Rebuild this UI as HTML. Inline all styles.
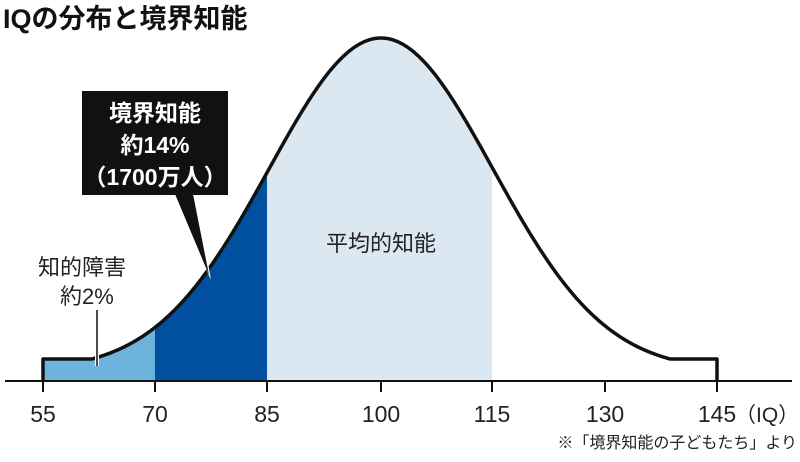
<!DOCTYPE html>
<html><head><meta charset="utf-8"><style>
html,body{margin:0;padding:0;background:#fff;}
svg{display:block;font-family:"Liberation Sans","Noto Sans CJK JP",sans-serif;}
</style></head><body>
<svg id="s" width="800" height="462" viewBox="0 0 800 462" xmlns="http://www.w3.org/2000/svg">
<text x="3" y="28" font-size="27" font-weight="bold" fill="#111">IQの分布と境界知能</text>
<g id="fills"></g>
<path id="curve" fill="none" stroke="#111" stroke-width="3.5" stroke-linejoin="round"/>
<line x1="5" y1="381" x2="792" y2="381" stroke="#111" stroke-width="2"/>
<g stroke="#111" stroke-width="2">
<line x1="43" y1="381" x2="43" y2="392"/><line x1="155" y1="381" x2="155" y2="392"/>
<line x1="267" y1="381" x2="267" y2="392"/><line x1="381" y1="381" x2="381" y2="392"/>
<line x1="492" y1="381" x2="492" y2="392"/><line x1="605" y1="381" x2="605" y2="392"/>
<line x1="717" y1="381" x2="717" y2="392"/>
</g>
<g font-size="23" fill="#222" text-anchor="middle">
<text x="43" y="422">55</text><text x="155" y="422">70</text><text x="267" y="422">85</text>
<text x="381" y="422">100</text><text x="492" y="422">115</text><text x="605" y="422">130</text>
<text x="717" y="422">145</text>
</g>
<text x="735" y="422" font-size="21" fill="#222">（IQ）</text>
<text x="797" y="448" font-size="16" fill="#222" text-anchor="end">※「境界知能の子どもたち」より</text>
<text x="381" y="251" font-size="22" fill="#222" text-anchor="middle">平均的知能</text>
<text x="38" y="275" font-size="22" fill="#222">知的障害</text>
<text x="60" y="304" font-size="22" fill="#222">約2%</text>
<line x1="97" y1="310" x2="97" y2="366" stroke="#fff" stroke-width="4"/>
<line x1="97" y1="310" x2="97" y2="366" stroke="#111" stroke-width="1.5"/>
<polygon points="172,194 196,194 211,280" fill="#fff"/>
<polygon points="175,194 193,194 209,275" fill="#111"/>
<rect x="82" y="91" width="146" height="104" fill="#111"/>
<g font-size="23" font-weight="bold" fill="#fff" text-anchor="middle">
<text x="155" y="121">境界知能</text>
<text x="155" y="153">約14%</text>
<text x="155" y="185">（1700万人）</text>
</g>
</svg>
<script>
var c=0.0357,H=321,B=359,M=381,S=112;
function y(x){var z=(x-M)/S,g=Math.exp(-z*z/2);var f=Math.max(0,(g-c)/(1-c));return B-H*f;}
function pts(a,b){var s=[];for(var x=a;x<=b;x+=1)s.push(x+','+y(x).toFixed(1));return s;}
var d='M43,381 L43,'+B+' L'+pts(43,717).join(' L')+' L717,381';
document.getElementById('curve').setAttribute('d',d);
function poly(a,b,col){return '<polygon fill="'+col+'" points="'+a+',381 '+pts(a,b).join(' ')+' '+b+',381"/>';}
var ns=document.getElementById('fills');
ns.innerHTML=poly(43,155,'#6cb4dc')+poly(155,267,'#00509f')+poly(267,492,'#dbe7f1');
</script>
</body></html>
